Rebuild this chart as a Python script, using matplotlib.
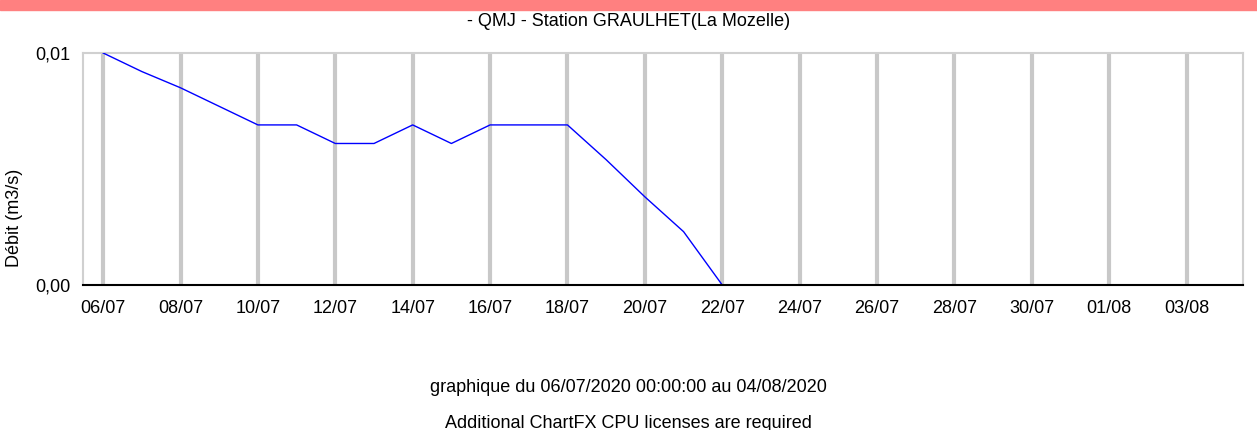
import matplotlib
matplotlib.use("Agg")
import matplotlib.pyplot as plt
from matplotlib.patches import Rectangle
from datetime import datetime, timedelta

plt.rcParams["font.family"] = ["Liberation Sans", "DejaVu Sans"]

# daily QMJ values, m3/s
start = datetime(2020, 7, 6)
debit = [0.0100, 0.0092, 0.0085, 0.0077, 0.0069, 0.0069, 0.0061, 0.0061,
         0.0069, 0.0061, 0.0069, 0.0069, 0.0069, 0.0054, 0.0038, 0.0023, 0.0000]
dates = [start + timedelta(days=i) for i in range(len(debit))]
tick_dates = [start + timedelta(days=2 * i) for i in range(15)]

fig = plt.figure(figsize=(12.57, 4.3), dpi=100)
fig.patches.append(Rectangle((0, 0.977), 1, 0.023, transform=fig.transFigure,
                             color="#ff8080", zorder=0))
ax = fig.add_axes([83 / 1257, 1 - 285 / 430, (1243 - 83) / 1257, (285 - 53) / 430])

for d in tick_dates:
    ax.axvline(d, color="#c8c8c8", lw=3, zorder=1)
ax.plot(dates, debit, color="#0000ff", lw=1, zorder=3)

ax.set_xlim(start - timedelta(hours=12.5), datetime(2020, 8, 4, 11))
ax.set_ylim(0, 0.01)
ax.set_yticks([0, 0.01])
ax.set_yticklabels(["0,00", "0,01"])
ax.set_xticks(tick_dates)
ax.set_xticklabels([d.strftime("%d/%m") for d in tick_dates])
ax.tick_params(length=0, labelsize=13)
ax.tick_params(axis="x", pad=11)
ax.tick_params(axis="y", pad=9)

for s in ["left", "top", "right"]:
    ax.spines[s].set_color("#d0d0d0")
    ax.spines[s].set_linewidth(1.5)
ax.spines["bottom"].set_color("black")
ax.spines["bottom"].set_linewidth(1.5)
ax.spines["bottom"].set_zorder(4)

fig.text(0.5, 1 - 22 / 430, "- QMJ - Station GRAULHET(La Mozelle)", ha="center", va="center", fontsize=13)
fig.text(15 / 1257, 1 - 218 / 430, "Débit (m3/s)", rotation=90, ha="center", va="center", fontsize=13)
fig.text(0.5, 1 - 388 / 430, "graphique du 06/07/2020 00:00:00 au 04/08/2020", ha="center", va="center", fontsize=13)
fig.text(0.5, 1 - 423 / 430, "Additional ChartFX CPU licenses are required", ha="center", va="center", fontsize=13)

fig.savefig("out.png", dpi=100)
